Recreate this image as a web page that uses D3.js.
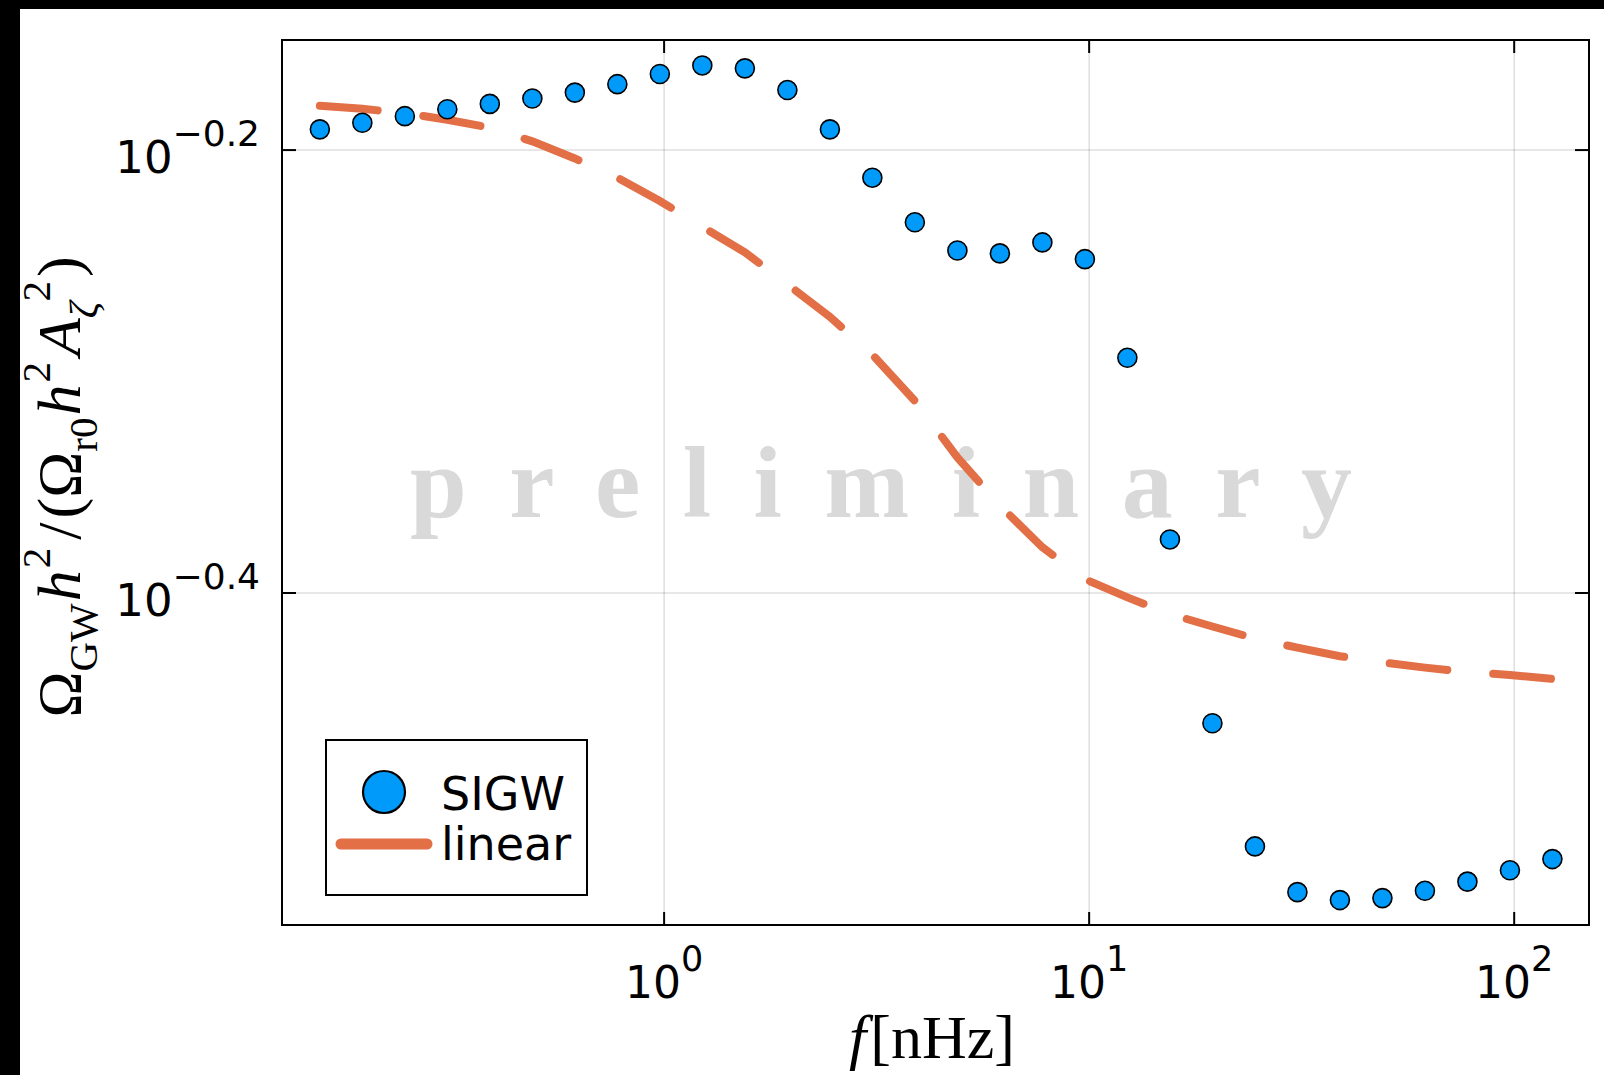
<!DOCTYPE html>
<html>
<head>
<meta charset="utf-8">
<script src="https://cdn.jsdelivr.net/npm/d3@7"></script>
<style>
  html, body { margin: 0; padding: 0; background: #fff; }
  svg { display: block; }
</style>
</head>
<body>
<svg id="chart" width="1604" height="1075"></svg>
<script>
// Frequencies f [nHz], evenly spaced in log10 (0.1 decade steps)
const freq = [0.1549, 0.1950, 0.2455, 0.3090, 0.3890, 0.4898, 0.6166, 0.7762, 0.9772, 1.230,
              1.549, 1.950, 2.455, 3.090, 3.890, 4.898, 6.166, 7.762, 9.772, 12.30,
              15.49, 19.50, 24.55, 30.90, 38.90, 48.98, 61.66, 77.62, 97.72, 123.0];

// Omega_GW h^2 / (Omega_r0 h^2 A_zeta^2) for the scalar-induced spectrum
const sigw = [0.6447, 0.6491, 0.6536, 0.6583, 0.6620, 0.6657, 0.6698, 0.6757, 0.6829, 0.6890,
              0.6869, 0.6716, 0.6447, 0.6131, 0.5853, 0.5684, 0.5667, 0.5732, 0.5633, 0.5084,
              0.4209, 0.3477, 0.3059, 0.2917, 0.2893, 0.2899, 0.2921, 0.2949, 0.2984, 0.3019];

// Same quantity from the linear approximation
const linear = [0.6607, 0.6586, 0.6557, 0.6512, 0.6458, 0.6367, 0.6255, 0.6131, 0.5984, 0.5826,
                0.5673, 0.5488, 0.5305, 0.5101, 0.4861, 0.4584, 0.4360, 0.4175, 0.4039, 0.3963,
                0.3895, 0.3845, 0.3797, 0.3761, 0.3728, 0.3704, 0.3684, 0.3667, 0.3656, 0.3641];

const seriesNames = ["SIGW", "linear"];
const xTickExps = [0, 1, 2];
const xTickSups = ["0", "1", "2"];
const yTickExps = [-0.2, -0.4];
const yTickSups = ["\u22120.2", "\u22120.4"];
const watermark = "p r e l i m i n a r y";

const blue = "#009afa";
const orange = "#e26f46";
const sans = "'DejaVu Sans', sans-serif";
const serif = "'Liberation Serif', 'DejaVu Serif', serif";

const svg = d3.select("#chart");
const box = { left: 282, top: 40, right: 1589, bottom: 925 };

const x = d3.scaleLog()
  .domain([Math.pow(10, -0.899), Math.pow(10, 2.176)])
  .range([box.left, box.right]);
const y = d3.scaleLog()
  .domain([Math.pow(10, -0.5499), Math.pow(10, -0.1503)])
  .range([box.bottom, box.top]);

// page background and dark edge bands
svg.append("rect").attr("width", 1604).attr("height", 1075).attr("fill", "#fff");
svg.append("rect").attr("x", 0).attr("y", 0).attr("width", 20).attr("height", 1075).attr("fill", "#000");
svg.append("rect").attr("x", 0).attr("y", 0).attr("width", 1604).attr("height", 9).attr("fill", "#000");

// grid
const grid = svg.append("g").attr("stroke", "#000").attr("stroke-opacity", 0.13).attr("stroke-width", 1.5);
grid.selectAll("line.gx").data(xTickExps).join("line")
  .attr("class", "gx")
  .attr("x1", d => x(Math.pow(10, d))).attr("x2", d => x(Math.pow(10, d)))
  .attr("y1", box.top).attr("y2", box.bottom);
grid.selectAll("line.gy").data(yTickExps).join("line")
  .attr("class", "gy")
  .attr("y1", d => y(Math.pow(10, d))).attr("y2", d => y(Math.pow(10, d)))
  .attr("x1", box.left).attr("x2", box.right);

// watermark
svg.append("text")
  .attr("x", 410).attr("y", 517)
  .attr("textLength", 942).attr("lengthAdjust", "spacing")
  .attr("font-family", serif).attr("font-weight", "bold").attr("font-size", 102)
  .attr("fill", "#d9d9d9")
  .text(watermark);

const rows = freq.map((f, i) => ({ f, s: sigw[i], l: linear[i] }));

// linear approximation (dashed)
svg.append("path")
  .datum(rows)
  .attr("fill", "none")
  .attr("stroke", orange)
  .attr("stroke-width", 8)
  .attr("stroke-linecap", "round")
  .attr("stroke-dasharray", "58,46")
  .attr("d", d3.line().x(d => x(d.f)).y(d => y(d.l)));

// SIGW points
svg.append("g").selectAll("circle").data(rows).join("circle")
  .attr("cx", d => x(d.f)).attr("cy", d => y(d.s))
  .attr("r", 9.5)
  .attr("fill", blue).attr("stroke", "#000").attr("stroke-width", 1.6);

// frame
svg.append("rect")
  .attr("x", box.left).attr("y", box.top)
  .attr("width", box.right - box.left).attr("height", box.bottom - box.top)
  .attr("fill", "none").attr("stroke", "#000").attr("stroke-width", 2);

// ticks on all four sides, pointing inward
const ticks = svg.append("g").attr("stroke", "#000").attr("stroke-width", 2);
xTickExps.forEach(e => {
  const px = x(Math.pow(10, e));
  ticks.append("line").attr("x1", px).attr("x2", px).attr("y1", box.bottom).attr("y2", box.bottom - 13);
  ticks.append("line").attr("x1", px).attr("x2", px).attr("y1", box.top).attr("y2", box.top + 13);
});
yTickExps.forEach(e => {
  const py = y(Math.pow(10, e));
  ticks.append("line").attr("y1", py).attr("y2", py).attr("x1", box.left).attr("x2", box.left + 14);
  ticks.append("line").attr("y1", py).attr("y2", py).attr("x1", box.right).attr("x2", box.right - 14);
});

// x tick labels: 10^n
xTickExps.forEach((e, i) => {
  const t = svg.append("text")
    .attr("x", x(Math.pow(10, e))).attr("y", 998)
    .attr("text-anchor", "middle")
    .attr("font-family", sans).attr("font-size", 44).attr("fill", "#000");
  t.append("tspan").text("10");
  t.append("tspan").attr("dy", -27).attr("font-size", 35).text(xTickSups[i]);
});

// y tick labels: 10^a
yTickExps.forEach((e, i) => {
  const t = svg.append("text")
    .attr("x", 260).attr("y", y(Math.pow(10, e)) + 23)
    .attr("text-anchor", "end")
    .attr("font-family", sans).attr("font-size", 45).attr("fill", "#000");
  t.append("tspan").text("10");
  t.append("tspan").attr("dy", -27).attr("font-size", 36).text(yTickSups[i]);
});

// x axis title
const xt = svg.append("text")
  .attr("x", 932).attr("y", 1058).attr("text-anchor", "middle")
  .attr("font-family", serif).attr("font-size", 62).attr("fill", "#000");
xt.append("tspan").attr("font-style", "italic").text("f");
xt.append("tspan").attr("dx", 4).text("[nHz]");

// y axis title
const yt = svg.append("text")
  .attr("transform", "translate(80,487) rotate(-90)")
  .attr("text-anchor", "middle")
  .attr("font-family", serif).attr("font-size", 62).attr("fill", "#000");
const small = 41, sub = 17, sup = 30;
yt.append("tspan").text("\u03a9");
yt.append("tspan").attr("font-size", small).attr("dy", sub).text("GW");
yt.append("tspan").attr("font-style", "italic").attr("dy", -sub).attr("dx", 2).text("h");
yt.append("tspan").attr("font-size", small).attr("dy", -sup).attr("dx", 2).text("2");
yt.append("tspan").attr("dy", sup).attr("dx", 8).text("/");
yt.append("tspan").attr("dx", 4).text("(");
yt.append("tspan").text("\u03a9");
yt.append("tspan").attr("font-size", small).attr("dy", sub).text("r0");
yt.append("tspan").attr("font-style", "italic").attr("dy", -sub).attr("dx", 2).text("h");
yt.append("tspan").attr("font-size", small).attr("dy", -sup).attr("dx", 2).text("2");
yt.append("tspan").attr("font-style", "italic").attr("dy", sup).attr("dx", 6).text("A");
yt.append("tspan").attr("font-style", "italic").attr("font-size", small).attr("dy", sub).text("\u03b6");
yt.append("tspan").attr("font-size", small).attr("dy", -sub - sup).text("2");
yt.append("tspan").attr("dy", sup).attr("dx", 4).text(")");

// legend
const lg = svg.append("g");
lg.append("rect").attr("x", 326).attr("y", 740).attr("width", 261).attr("height", 155)
  .attr("fill", "#fff").attr("stroke", "#000").attr("stroke-width", 2);
lg.append("circle").attr("cx", 384).attr("cy", 792).attr("r", 21)
  .attr("fill", blue).attr("stroke", "#000").attr("stroke-width", 2.2);
lg.append("line").attr("x1", 341).attr("x2", 427).attr("y1", 844).attr("y2", 844)
  .attr("stroke", orange).attr("stroke-width", 11).attr("stroke-linecap", "round");
lg.selectAll("text").data(seriesNames).join("text")
  .attr("x", 441).attr("y", (d, i) => 810 + i * 50)
  .attr("font-family", sans).attr("font-size", 46).attr("fill", "#000")
  .text(d => d);
</script>
</body>
</html>
